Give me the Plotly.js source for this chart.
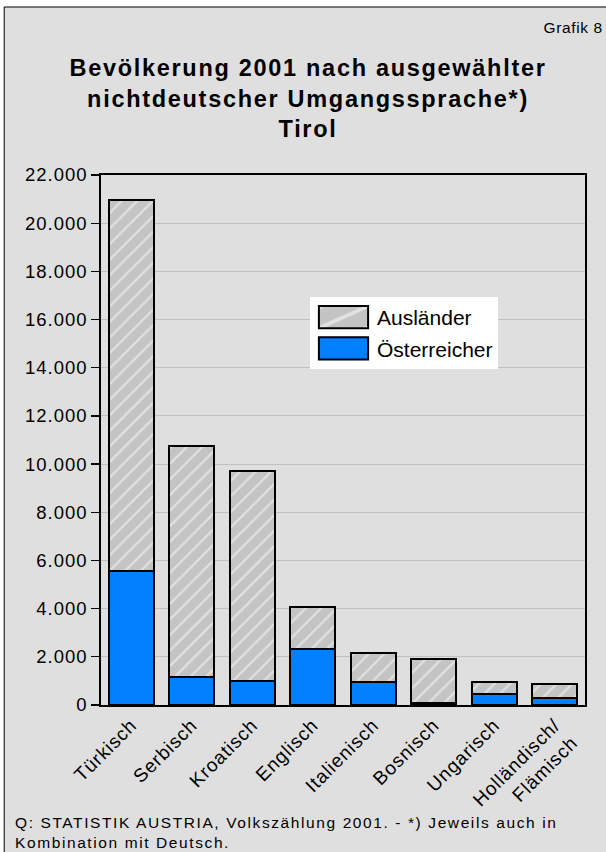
<!DOCTYPE html>
<html>
<head>
<meta charset="utf-8">
<script src="https://cdn.plot.ly/plotly-3.0.1.min.js"></script>
<style>
html,body{margin:0;padding:0;background:#fff;}
#chart{width:606px;height:852px;}
#chart .gtitle{letter-spacing:1.7px;}
#chart .ytick text{letter-spacing:1px;}
#chart .xtick text{letter-spacing:0.9px;}
#chart .annotation[data-index="1"] text{letter-spacing:1.6px;}
#chart .annotation[data-index="0"] text{letter-spacing:0.6px;}
#chart .legend .legendpoints path{transform:translate(33.5px,0px) scale(4.1,1.85);vector-effect:non-scaling-stroke;}
</style>
</head>
<body>
<div id="chart"></div>
<script>
const categories = ["Türkisch", "Serbisch", "Kroatisch", "Englisch", "Italienisch", "Bosnisch", "Ungarisch", "Holländisch/<br>Flämisch"];
const oesterreicher = [5570, 1150, 1000, 2340, 970, 80, 440, 280];
const auslaender = [15380, 9590, 8730, 1740, 1200, 1810, 520, 580];
const yTicks = [0, 2000, 4000, 6000, 8000, 10000, 12000, 14000, 16000, 18000, 20000, 22000];

const font = "Liberation Sans, Arial, Helvetica, sans-serif";

const traces = [
  {
    type: "bar", name: "Österreicher", x: categories, y: oesterreicher,
    legendgroup: "oe", legendrank: 2,
    marker: {color: "#0080ff", line: {color: "#000", width: 2}},
    hoverinfo: "skip"
  },
  {
    type: "bar", name: "Ausländer", x: categories, y: auslaender,
    legendgroup: "au", legendrank: 1,
    marker: {color: "#c4c4c4", line: {color: "#000", width: 2},
      pattern: {shape: "/", bgcolor: "#c4c4c4", fgcolor: "#ffffff", size: 11, solidity: 0.2, fillmode: "overlay"}},
    hoverinfo: "skip"
  }
];

const layout = {
  width: 606, height: 852,
  margin: {l: 101, r: 21, t: 175, b: 147},
  paper_bgcolor: "#ffffff",
  plot_bgcolor: "#ffffff",
  separators: ",.",
  barmode: "stack",
  bargap: 0.25,
  font: {family: font, color: "#000", size: 19},
  title: {
    text: "<b>Bevölkerung 2001 nach ausgewählter<br>nichtdeutscher Umgangssprache*)<br>Tirol</b>",
    font: {family: font, size: 23.5, color: "#000"},
    x: 0.5083, xanchor: "center", xref: "container",
    y: 1 - 76/852, yanchor: "top", yref: "container"
  },
  xaxis: {
    type: "category",
    showgrid: false, showline: true, mirror: true, linecolor: "#000", linewidth: 1.7,
    ticks: "", tickangle: -45, tickfont: {size: 19, family: font, color: "#000"},
    fixedrange: true
  },
  yaxis: {
    range: [0, 22000], tickvals: yTicks, tickformat: ",d",
    showgrid: true, gridcolor: "#c0c0c0", gridwidth: 1,
    showline: true, mirror: true, linecolor: "#000", linewidth: 1.7,
    ticks: "outside", ticklen: 8, tickcolor: "#000", tickwidth: 1.2,
    tickfont: {size: 18.5, family: font, color: "#000"},
    zeroline: false, fixedrange: true
  },
  legend: {
    x: (310 - 101) / 484, y: (705 - 297) / 530, xanchor: "left", yanchor: "top",
    bgcolor: "#ffffff", borderwidth: 0, traceorder: "grouped",
    tracegroupgap: 1, itemwidth: 57,
    font: {size: 21, family: font, color: "#000"}
  },
  shapes: [
    {type: "rect", xref: "paper", yref: "paper", layer: "below",
     x0: -0.2, x1: 1.3, y0: -0.5, y1: (705 - 7) / 530,
     fillcolor: "#dfdfdf", line: {color: "#000", width: 1}}
  ],
  annotations: [
    {text: "Grafik 8", xref: "paper", yref: "paper", x: (602 - 101) / 484, y: (705 - 27) / 530,
     xanchor: "right", yanchor: "middle", showarrow: false, font: {size: 15.5, family: font, color: "#000"}},
    {text: "Q: STATISTIK AUSTRIA, Volkszählung 2001. - *) Jeweils auch in<br>Kombination mit Deutsch.",
     xref: "paper", yref: "paper", x: (13 - 101) / 484, y: (705 - 812) / 530,
     xanchor: "left", yanchor: "top", align: "left", showarrow: false,
     font: {size: 15.5, family: font, color: "#000"}}
  ]
};

Plotly.newPlot("chart", traces, layout, {displayModeBar: false, staticPlot: true});
</script>
</body>
</html>
